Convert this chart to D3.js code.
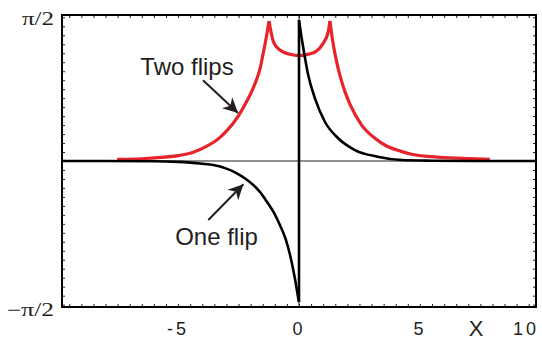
<!DOCTYPE html>
<html>
<head>
<meta charset="utf-8">
<script src="https://cdn.jsdelivr.net/npm/d3@7"></script>
<style>
  html, body { margin: 0; padding: 0; background: #fff; }
  svg { display: block; }
</style>
</head>
<body>
<svg id="chart" width="542" height="341"></svg>
<script>
// ---- data ----
const xTickValues = [-5, 0, 5, 10];
const xTickLabels = ["-5", "0", "5", "10"];
const yTickValues = [Math.PI / 2, -Math.PI / 2];
const yTickLabels = ["π/2", "−π/2"];
const xAxisTitle = "X";

// One flip (black)
const oneFlipX = [-9.8, -6, -5, -4.5, -4, -3.54, -3, -2.57, -2.2, -1.89, -1.6, -1.33, -1.05, -0.79, -0.55, -0.37, -0.17, -0.03, 0,
                  0, 0.08, 0.18, 0.38, 0.66, 1.07, 1.62, 2.31, 3.25, 4.24, 5.5, 7, 9.8];
const oneFlipY = [0, -0.003, -0.01, -0.018, -0.03, -0.045, -0.085, -0.137, -0.2, -0.267, -0.35, -0.453, -0.57, -0.713, -0.87, -1.047, -1.306, -1.529, -1.5708,
                  1.5708, 1.42, 1.255, 0.958, 0.698, 0.437, 0.253, 0.122, 0.048, 0.011, 0.003, 0, 0];

// Two flips (red)
const twoFlipsX = [-7.52, -6.5, -5.7, -5.0, -4.4, -3.81, -3.3, -2.99, -2.51, -2.16, -1.93, -1.75, -1.6, -1.48, -1.35, -1.24,
                   -1.06, -0.79, -0.37, 0, 0.4, 0.7, 1.0, 1.21, 1.28,
                   1.38, 1.49, 1.62, 1.76, 1.93, 2.11, 2.59, 3.14, 3.6, 4.2, 4.66, 5.83, 7.07, 7.89];
const twoFlipsY = [0.018, 0.025, 0.04, 0.06, 0.095, 0.165, 0.255, 0.335, 0.5, 0.665, 0.79, 0.91, 1.04, 1.2, 1.38, 1.56,
                   1.33, 1.236, 1.188, 1.173, 1.19, 1.22, 1.31, 1.44, 1.56,
                   1.36, 1.19, 1.03, 0.89, 0.75, 0.63, 0.40, 0.253, 0.17, 0.11, 0.075, 0.041, 0.026, 0.019];

// annotations
const annotLabels = ["Two flips", "One flip"];

// ---- drawing ----
const W = 542, H = 341;
const svg = d3.select("#chart");
const x = d3.scaleLinear().domain([-9.8, 9.8]).range([62, 536]);
const y = d3.scaleLinear().domain([-1.626, 1.626]).range([307, 15]);
const ink = "#231f20";
const red = "#e8232a";

// ticks on all four sides (inward)
const xMinor = d3.range(-9.5, 9.51, 0.5);
const yMinor = d3.range(-16, 17).map(d => d / 10);
function cleanAxis(g) { g.select(".domain").remove(); g.selectAll("line").attr("stroke", ink).attr("stroke-width", 1); }
svg.append("g").attr("transform", `translate(0,${y.range()[0]})`)
  .call(d3.axisBottom(x).tickValues(xMinor).tickSize(-3).tickFormat("")).call(cleanAxis);
svg.append("g").attr("transform", `translate(0,${y.range()[1]})`)
  .call(d3.axisTop(x).tickValues(xMinor).tickSize(-3).tickFormat("")).call(cleanAxis);
svg.append("g").attr("transform", `translate(${x.range()[0]},0)`)
  .call(d3.axisLeft(y).tickValues(yMinor).tickSize(-3).tickFormat("")).call(cleanAxis);
svg.append("g").attr("transform", `translate(${x.range()[1]},0)`)
  .call(d3.axisRight(y).tickValues(yMinor).tickSize(-3).tickFormat("")).call(cleanAxis);

// zero lines
svg.append("line").attr("x1", x.range()[0]).attr("x2", x.range()[1]).attr("y1", y(0)).attr("y2", y(0))
  .attr("stroke", ink).attr("stroke-width", 1);
svg.append("line").attr("x1", x(0)).attr("x2", x(0)).attr("y1", y.range()[1]).attr("y2", y.range()[0])
  .attr("stroke", ink).attr("stroke-width", 1);

// curves drawn piecewise so cusps and jumps stay sharp
function pieces(xs, ys) {
  const pts = xs.map((v, i) => [v, ys[i]]);
  const cuts = [0];
  for (let i = 1; i < pts.length - 1; i++) {
    const a = pts[i - 1][1], b = pts[i][1], c = pts[i + 1][1];
    if ((b > a && b > c) || pts[i][0] === pts[i + 1][0]) cuts.push(i);
    if (pts[i][0] === pts[i + 1][0]) cuts.push(i + 1);
  }
  cuts.push(pts.length - 1);
  const segs = [];
  for (let k = 0; k < cuts.length - 1; k++) segs.push(pts.slice(cuts[k], cuts[k + 1] + 1));
  return segs;
}
function drawCurve(xs, ys, color, width) {
  const g = svg.append("g");
  pieces(xs, ys).forEach(seg => {
    const curve = (seg.length > 2 && seg[0][0] !== seg[seg.length - 1][0]) ? d3.curveMonotoneX : d3.curveLinear;
    g.append("path").datum(seg)
      .attr("d", d3.line().x(d => x(d[0])).y(d => y(d[1])).curve(curve))
      .attr("fill", "none").attr("stroke", color).attr("stroke-width", width)
      .attr("stroke-linejoin", "round").attr("stroke-linecap", "butt");
  });
}
drawCurve(twoFlipsX, twoFlipsY, red, 3.2);
drawCurve(oneFlipX, oneFlipY, "#000", 2.6);

// frame
svg.append("rect").attr("x", x.range()[0]).attr("y", y.range()[1])
  .attr("width", x.range()[1] - x.range()[0]).attr("height", y.range()[0] - y.range()[1])
  .attr("fill", "none").attr("stroke", "#000").attr("stroke-width", 2);

// x tick labels
const xl = svg.append("g").attr("font-family", "Liberation Sans, Arial, sans-serif").attr("font-size", 18).attr("fill", ink);
xTickValues.forEach((v, i) => {
  const t = xl.append("text").attr("x", x(v)).attr("y", 335).attr("text-anchor", "middle")
    .attr("letter-spacing", 3).text(xTickLabels[i]);
  const w = t.node().getComputedTextLength();
  if (x(v) + w / 2 > W - 3) t.attr("x", W - 3 - w / 2);
});
svg.append("text").attr("x", 476).attr("y", 336).attr("text-anchor", "middle")
  .attr("font-family", "Liberation Sans, Arial, sans-serif").attr("font-size", 22).attr("fill", ink)
  .text(xAxisTitle);

// y tick labels (wide serif)
yTickValues.forEach((v, i) => {
  svg.append("text").attr("x", 54).attr("y", y(v) + (v > 0 ? 5 : 14)).attr("text-anchor", "end")
    .attr("font-family", "Liberation Serif, Times New Roman, serif").attr("font-size", 18).attr("fill", ink)
    .attr("textLength", v > 0 ? 32 : 47).attr("lengthAdjust", "spacingAndGlyphs")
    .text(yTickLabels[i]);
});

// annotations with arrows
svg.append("defs").append("marker").attr("id", "arr").attr("viewBox", "-16 -8 18 16")
  .attr("refX", 0).attr("refY", 0).attr("markerWidth", 18).attr("markerHeight", 16)
  .attr("markerUnits", "userSpaceOnUse").attr("orient", "auto")
  .append("path").attr("d", "M0,0 L-15,-7.5 L-10.5,0 L-15,7.5 Z").attr("fill", ink);

const annots = [
  { label: annotLabels[0], tx: -4.63, ty: 0.958, x1: -3.97, y1: 0.90, x2: -2.52, y2: 0.535 },
  { label: annotLabels[1], tx: -3.41, ty: -0.935, x1: -3.75, y1: -0.657, x2: -2.30, y2: -0.259 }
];
annots.forEach(a => {
  svg.append("text").attr("x", x(a.tx)).attr("y", y(a.ty)).attr("text-anchor", "middle")
    .attr("font-family", "Liberation Sans, Arial, sans-serif").attr("font-size", 24).attr("fill", ink)
    .text(a.label);
  svg.append("line").attr("x1", x(a.x1)).attr("y1", y(a.y1)).attr("x2", x(a.x2)).attr("y2", y(a.y2))
    .attr("stroke", ink).attr("stroke-width", 2).attr("marker-end", "url(#arr)");
});
</script>
</body>
</html>
